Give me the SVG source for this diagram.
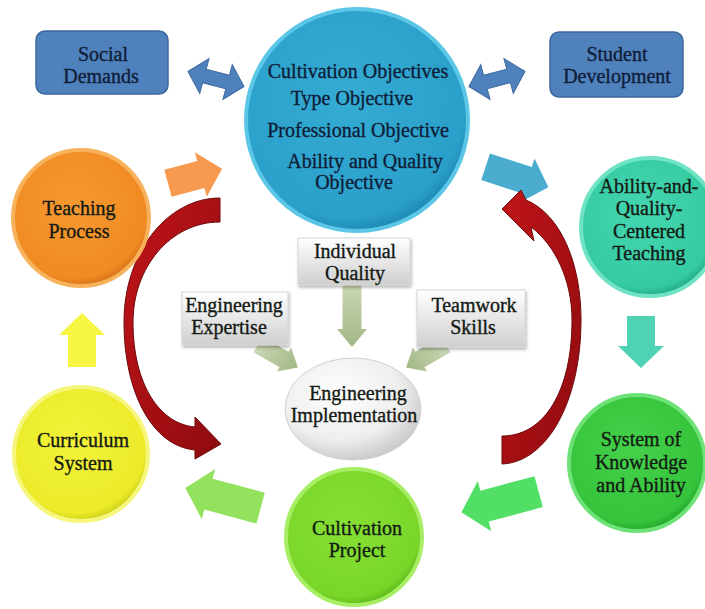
<svg xmlns="http://www.w3.org/2000/svg" width="705" height="609" viewBox="0 0 705 609">
<style>
.t{font-family:"Liberation Serif","Times New Roman",serif;font-size:20px;fill:#141a14;stroke:#141a14;stroke-width:0.35;text-anchor:middle}
.tb{fill:#0f1e38;stroke:#0f1e38}
.box{fill:#4f81bd;stroke:#3b679c;stroke-width:1.5}
.gbox{fill:url(#gGray);stroke:#d6d6d6;stroke-width:1;filter:url(#sh)}
.dbl{fill:#4f81bd;stroke:#3d6aa0;stroke-width:1}
.ga{fill:url(#gGa)}
.red{fill:url(#gRed);stroke:#6e0a0a;stroke-width:1}
</style>
<defs>
<filter id="sh" x="-20%" y="-20%" width="140%" height="150%"><feDropShadow dx="1" dy="2" stdDeviation="1.5" flood-color="#000" flood-opacity="0.3"/></filter>
<linearGradient id="gGray" x1="0" y1="0" x2="0" y2="1"><stop offset="0" stop-color="#ffffff"/><stop offset="1" stop-color="#cfcfcf"/></linearGradient>
<linearGradient id="gGa" x1="0" y1="0" x2="1" y2="0"><stop offset="0" stop-color="#c9d6b4"/><stop offset="1" stop-color="#a3b886"/></linearGradient>
<radialGradient id="gEll" cx="0.4" cy="0.35" r="0.75"><stop offset="0" stop-color="#ffffff"/><stop offset="0.6" stop-color="#eeeeee"/><stop offset="1" stop-color="#bdbdbd"/></radialGradient>
<linearGradient id="gRed" x1="0" y1="0" x2="1" y2="1"><stop offset="0" stop-color="#c0141a"/><stop offset="1" stop-color="#8e0b0e"/></linearGradient>
<radialGradient id="cBlue" cx="0.45" cy="0.4" r="0.6"><stop offset="0" stop-color="#35acd4"/><stop offset="0.9" stop-color="#2a9fca"/><stop offset="1" stop-color="#1e8cb6"/></radialGradient>
<radialGradient id="cOr" cx="0.45" cy="0.4" r="0.6"><stop offset="0" stop-color="#f6992f"/><stop offset="0.9" stop-color="#f08a22"/><stop offset="1" stop-color="#d9761a"/></radialGradient>
<radialGradient id="cYe" cx="0.45" cy="0.4" r="0.6"><stop offset="0" stop-color="#f2f23a"/><stop offset="0.9" stop-color="#ebeb2a"/><stop offset="1" stop-color="#d2d21c"/></radialGradient>
<radialGradient id="cLg" cx="0.45" cy="0.4" r="0.6"><stop offset="0" stop-color="#86e034"/><stop offset="0.9" stop-color="#79d628"/><stop offset="1" stop-color="#5fbd1c"/></radialGradient>
<radialGradient id="cGr" cx="0.45" cy="0.4" r="0.6"><stop offset="0" stop-color="#45d04a"/><stop offset="0.9" stop-color="#36c43c"/><stop offset="1" stop-color="#25a92c"/></radialGradient>
<radialGradient id="cTe" cx="0.45" cy="0.4" r="0.6"><stop offset="0" stop-color="#44d6b0"/><stop offset="0.9" stop-color="#35caa2"/><stop offset="1" stop-color="#24ad88"/></radialGradient>
</defs>

<g id="connectors">
  <path class="dbl" transform="translate(216,79) rotate(15)" d="M-29,0 L-12,-18 V-7 H12 V-18 L29,0 L12,18 V7 H-12 V18 Z"/>
  <path class="dbl" transform="translate(497,79) rotate(-15)" d="M-29,0 L-12,-18 V-7 H12 V-18 L29,0 L12,18 V7 H-12 V18 Z"/>
  <path fill="#f79a50" transform="translate(195,176) rotate(-15)" d="M-28,-14 H6 V-23 L28,0 L6,23 V14 H-28 Z"/>
  <path fill="#4bacd0" transform="translate(517,177) rotate(18)" d="M-33,-14 H11 V-23 L33,0 L11,23 V14 H-33 Z"/>
  <path fill="#4fd3b4" transform="translate(641,342) rotate(90)" d="M-26,-14 H4 V-23 L26,0 L4,23 V14 H-26 Z"/>
  <path fill="#52df66" transform="translate(500,502) rotate(165)" d="M-40,-16 H16 V-26 L40,0 L16,26 V16 H-40 Z"/>
  <path fill="#93e25e" transform="translate(223,498) rotate(195)" d="M-39,-16 H15 V-26 L39,0 L15,26 V16 H-39 Z"/>
  <path fill="#f5f542" transform="translate(82,340) rotate(-90)" d="M-27,-14 H5 V-23 L27,0 L5,23 V14 H-27 Z"/>
  <path class="ga" transform="translate(352,316) rotate(90)" d="M-31,-9.5 H13 V-15 L31,0 L13,15 V9.5 H-31 Z"/>
  <path class="ga" transform="translate(278,356) rotate(30)" d="M-23,-9 H7 V-14 L23,0 L7,14 V9 H-23 Z"/>
  <path class="ga" transform="translate(426,356) rotate(150)" d="M-23,-9 H7 V-14 L23,0 L7,14 V9 H-23 Z"/>
  <path class="red" d="M220,198 C167,198 124,253 124,322 C124,392 152,446 195,450 L195,459 L221,444 L195,417 L195,427 C160,424 133,385 133,322 C133,268 170,222 220,222 Z"/>
  <path class="red" d="M502,464 C548,462 581,400 581,320 C581,262 560,214 526,200 L521,190 L502,209 L534,241 L531,227 C555,245 572,280 572,320 C572,390 545,436 502,436 Z"/>
</g>

<g id="social-demands">
  <rect class="box" x="36" y="31" width="132" height="63" rx="9"/>
  <text class="t tb" x="103" y="61">Social</text>
  <text class="t tb" x="101" y="83">Demands</text>
</g>
<g id="student-development">
  <rect class="box" x="550" y="32" width="133" height="65" rx="9"/>
  <text class="t tb" x="617" y="61">Student</text>
  <text class="t tb" x="617" y="83">Development</text>
</g>

<g id="cultivation-objectives">
  <circle cx="357" cy="120" r="111" fill="url(#cBlue)" stroke="#5cc6e6" stroke-width="4"/>
  <text class="t tb" x="358" y="78">Cultivation Objectives</text>
  <text class="t tb" x="352" y="105">Type Objective</text>
  <text class="t tb" x="358" y="137">Professional Objective</text>
  <text class="t tb" x="365" y="168">Ability and Quality</text>
  <text class="t tb" x="354" y="189">Objective</text>
</g>

<g id="teaching-process">
  <circle cx="81" cy="218" r="68" fill="url(#cOr)" stroke="#f8b25c" stroke-width="4"/>
  <text class="t" x="79" y="215">Teaching</text>
  <text class="t" x="79" y="238">Process</text>
</g>
<g id="curriculum-system">
  <circle cx="81" cy="454" r="67" fill="url(#cYe)" stroke="#f6f67c" stroke-width="4"/>
  <text class="t" x="83" y="447">Curriculum</text>
  <text class="t" x="83" y="470">System</text>
</g>
<g id="cultivation-project">
  <circle cx="354" cy="537" r="68" fill="url(#cLg)" stroke="#a7ee64" stroke-width="4"/>
  <text class="t" x="357" y="535">Cultivation</text>
  <text class="t" x="357" y="557">Project</text>
</g>
<g id="system-knowledge">
  <circle cx="637" cy="463" r="68" fill="url(#cGr)" stroke="#6ee276" stroke-width="4"/>
  <text class="t" x="641" y="446">System of</text>
  <text class="t" x="641" y="469">Knowledge</text>
  <text class="t" x="641" y="492">and Ability</text>
</g>
<g id="ability-quality-teaching">
  <circle cx="650" cy="227" r="69" fill="url(#cTe)" stroke="#6fe3c4" stroke-width="4"/>
  <text class="t" x="649" y="193">Ability-and-</text>
  <text class="t" x="649" y="215">Quality-</text>
  <text class="t" x="649" y="238">Centered</text>
  <text class="t" x="649" y="260">Teaching</text>
</g>

<g id="individual-quality">
  <rect class="gbox" x="298" y="238" width="112" height="47"/>
  <text class="t" x="355" y="258">Individual</text>
  <text class="t" x="355" y="280">Quality</text>
</g>
<g id="engineering-expertise">
  <rect class="gbox" x="182" y="292" width="106" height="53"/>
  <text class="t" x="234" y="312">Engineering</text>
  <text class="t" x="229" y="334">Expertise</text>
</g>
<g id="teamwork-skills">
  <rect class="gbox" x="417" y="290" width="108" height="57"/>
  <text class="t" x="474" y="312">Teamwork</text>
  <text class="t" x="473" y="334">Skills</text>
</g>
<g id="engineering-implementation">
  <ellipse cx="353" cy="409" rx="68" ry="51" fill="url(#gEll)" stroke="#d0d0d0" stroke-width="1"/>
  <text class="t" x="358" y="400">Engineering</text>
  <text class="t" x="354" y="422">Implementation</text>
</g>
</svg>
